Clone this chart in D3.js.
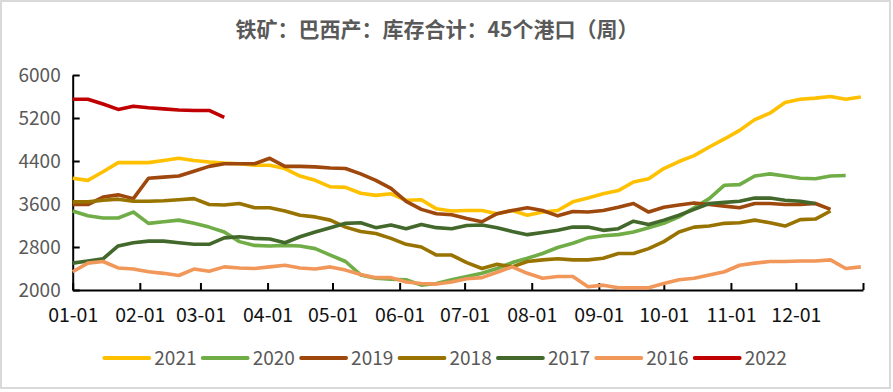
<!DOCTYPE html>
<html>
<head>
<meta charset="utf-8">
<script src="https://cdn.jsdelivr.net/npm/d3@7"></script>
<style>
  body { margin: 0; background: #fff; }
  text { font-family: "Noto Sans CJK SC", "Noto Sans", sans-serif; }
</style>
</head>
<body>
<div id="chart"></div>
<script>
// Chart title and axis labels.
var title = "铁矿：巴西产：库存合计：45个港口（周）";
var monthLabels = ["01-01", "02-01", "03-01", "04-01", "05-01", "06-01",
                   "07-01", "08-01", "09-01", "10-01", "11-01", "12-01"];
var yTicks = [2000, 2800, 3600, 4400, 5200, 6000];

// Weekly stock values (10k tons), one array per year.
var v2021 = [4080, 4040, 4200, 4370, 4370, 4370, 4410, 4450, 4410, 4380, 4360, 4350, 4320,
             4320, 4260, 4120, 4040, 3920, 3910, 3800, 3760, 3790, 3670, 3680, 3510, 3470, 3480,
             3480, 3420, 3480, 3390, 3450, 3480, 3640, 3710, 3790, 3850, 4010, 4070, 4260,
             4390, 4500, 4660, 4810, 4970, 5170, 5290, 5490, 5550, 5570, 5600, 5550, 5590];
var v2020 = [3470, 3380, 3340, 3340, 3450, 3240, 3270, 3300, 3240, 3170, 3080, 2900, 2830,
             2820, 2830, 2820, 2770, 2650, 2530, 2280, 2220, 2200, 2190, 2090, 2120, 2190, 2250,
             2310, 2400, 2510, 2590, 2680, 2790, 2870, 2970, 3010, 3030, 3080, 3160, 3240,
             3360, 3530, 3700, 3950, 3960, 4120, 4160, 4120, 4080, 4070, 4120, 4130];
var v2019 = [3590, 3590, 3730, 3770, 3700, 4080, 4100, 4120, 4210, 4300, 4350, 4350, 4350,
             4450, 4300, 4300, 4290, 4270, 4260, 4160, 4040, 3890, 3650, 3500, 3420, 3400, 3330,
             3270, 3420, 3480, 3530, 3480, 3380, 3460, 3450, 3480, 3540, 3610, 3450, 3540,
             3580, 3620, 3590, 3560, 3530, 3610, 3610, 3590, 3590, 3610, 3500];
var v2018 = [3640, 3640, 3670, 3690, 3650, 3650, 3660, 3680, 3700, 3590, 3580, 3610, 3530,
             3530, 3470, 3390, 3360, 3300, 3170, 3090, 3050, 2960, 2850, 2800, 2650, 2650, 2510,
             2400, 2480, 2430, 2530, 2560, 2580, 2560, 2560, 2590, 2680, 2680, 2770, 2900,
             3080, 3170, 3190, 3240, 3250, 3300, 3250, 3190, 3310, 3320, 3470];
var v2017 = [2500, 2540, 2580, 2820, 2880, 2910, 2910, 2880, 2850, 2850, 2970, 2990, 2960,
             2950, 2880, 2990, 3080, 3160, 3240, 3250, 3160, 3210, 3140, 3220, 3160, 3140, 3200,
             3210, 3160, 3090, 3030, 3070, 3110, 3170, 3170, 3110, 3140, 3280, 3220, 3300,
             3390, 3500, 3610, 3630, 3650, 3710, 3710, 3670, 3650, 3610];
var v2016 = [2340, 2500, 2530, 2410, 2390, 2340, 2310, 2270, 2390, 2350, 2430, 2410, 2400,
             2430, 2460, 2410, 2390, 2430, 2370, 2290, 2230, 2230, 2150, 2120, 2110, 2150, 2210,
             2230, 2330, 2430, 2310, 2220, 2250, 2250, 2060, 2090, 2040, 2040, 2040, 2120,
             2190, 2220, 2280, 2340, 2460, 2500, 2530, 2530, 2540, 2540, 2560, 2400, 2430];
var v2022 = [5550, 5550, 5460, 5360, 5420, 5390, 5370, 5350, 5340, 5340, 5210];

var seriesNames = ["2021", "2020", "2019", "2018", "2017", "2016", "2022"];
var seriesValues = [v2021, v2020, v2019, v2018, v2017, v2016, v2022];
var colors = ["#FFC000", "#70AD47", "#9E480E", "#997300", "#43682B", "#F1975A", "#C00000"];

// Size of the picture.
var width = 893;
var height = 392;

var svg = d3.select("#chart")
    .append("svg")
    .attr("width", width)
    .attr("height", height);

// Light grey frame round the chart.
svg.append("rect")
    .attr("x", 1).attr("y", 1)
    .attr("width", 889).attr("height", 387)
    .attr("fill", "none")
    .attr("stroke", "#d9d9d9")
    .attr("stroke-width", 2);

// Title.
svg.append("text")
    .attr("x", 437)
    .attr("y", 37)
    .attr("text-anchor", "middle")
    .attr("font-size", 21)
    .attr("font-weight", "bold")
    .attr("fill", "#595959")
    .text(title);

// Every year is put on the same calendar (2021) so the lines overlap.
var start = new Date(2021, 0, 1);
var x = d3.scaleTime()
    .domain([start, new Date(2022, 0, 1)])
    .range([72.7, 863]);
var y = d3.scaleLinear()
    .domain([2000, 6000])
    .range([290, 75]);

function weekDate(i) {
  return d3.timeDay.offset(start, 7 * i);
}

// X axis, ticks pointing up into the plot.
var monthTicks = d3.timeMonth.range(start, new Date(2022, 0, 2));
var xAxis = svg.append("g")
    .attr("transform", "translate(0,290)")
    .call(d3.axisBottom(x)
      .tickValues(monthTicks)
      .tickSizeInner(-7)
      .tickSizeOuter(0)
      .tickFormat(function(d, i) { return monthLabels[i] || ""; }));
xAxis.select(".domain").attr("stroke", "#000").attr("stroke-width", 2);
xAxis.selectAll(".tick line").attr("stroke", "#000").attr("stroke-width", 2);
xAxis.selectAll(".tick text")
    .attr("y", 18)
    .attr("font-size", 19.5)
    .attr("fill", "#111");

// Y axis, ticks pointing right into the plot.
var yAxis = svg.append("g")
    .attr("transform", "translate(72.7,0)")
    .call(d3.axisLeft(y)
      .tickValues(yTicks)
      .tickSizeInner(-7)
      .tickSizeOuter(0)
      .tickFormat(d3.format("d")));
yAxis.select(".domain").attr("stroke", "#000").attr("stroke-width", 2);
yAxis.selectAll(".tick line").attr("stroke", "#000").attr("stroke-width", 2);
yAxis.selectAll(".tick text")
    .attr("x", -12)
    .attr("font-size", 19)
    .attr("fill", "#595959");
svg.selectAll(".tick text").attr("font-family", "Noto Sans CJK SC");

// Lines.
var line = d3.line()
    .x(function(d, i) { return x(weekDate(i)); })
    .y(function(d) { return y(d); });

svg.append("g")
  .selectAll("path")
  .data(seriesValues)
  .enter()
  .append("path")
    .attr("d", line)
    .attr("fill", "none")
    .attr("stroke", function(d, i) { return colors[i]; })
    .attr("stroke-width", 3.6)
    .attr("stroke-linejoin", "round");

// Legend along the bottom.
var legend = svg.append("g")
  .selectAll("g")
  .data(seriesNames)
  .enter()
  .append("g")
    .attr("transform", function(d, i) { return "translate(" + (104.3 + i * 98.4) + ",358)"; });

legend.append("line")
    .attr("x1", 0).attr("x2", 45)
    .attr("stroke", function(d, i) { return colors[i]; })
    .attr("stroke-width", 3.8)
    .attr("stroke-linecap", "round");

legend.append("text")
    .attr("x", 50)
    .attr("dy", "0.35em")
    .attr("font-size", 19)
    .attr("fill", "#595959")
    .text(function(d) { return d; });
</script>
</body>
</html>
